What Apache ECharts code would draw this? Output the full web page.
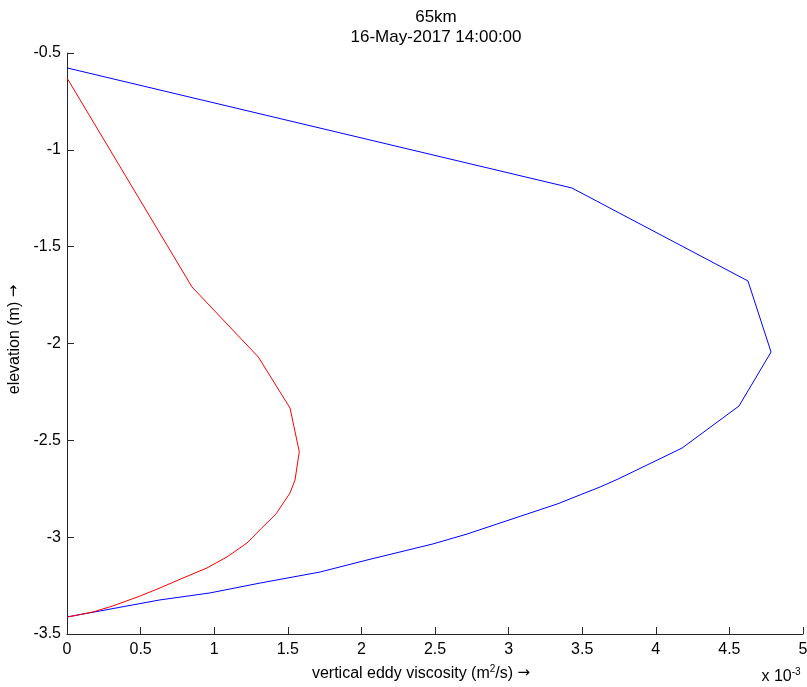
<!DOCTYPE html>
<html>
<head>
<meta charset="utf-8">
<script src="https://cdn.jsdelivr.net/npm/echarts@6/dist/echarts.min.js"></script>
<style>html,body{margin:0;padding:0;background:#fff;overflow:hidden;}#c{width:807px;height:687px;}</style>
</head>
<body>
<div id="c"></div>
<script>
// viscosity in units of 1e-3 m^2/s, elevation in m
const blueX = [0, 3.43, 4.626, 4.783, 4.565, 4.178, 3.743, 3.621, 3.329, 2.942, 2.717, 2.486, 2.038, 1.719, 1.311, 0.971, 0.632, 0.224, 0];
const blueY = [-0.577, -1.197, -1.677, -2.044, -2.323, -2.540, -2.700, -2.741, -2.829, -2.927, -2.984, -3.035, -3.118, -3.180, -3.237, -3.288, -3.324, -3.381, -3.412];
const redX = [0, 0.849, 1.30, 1.515, 1.578, 1.549, 1.515, 1.447, 1.42, 1.32, 1.223, 1.087, 0.951, 0.788, 0.632, 0.496, 0.312, 0.177, 0.02, 0];
const redY = [-0.629, -1.708, -2.07, -2.333, -2.559, -2.705, -2.772, -2.849, -2.88, -2.955, -3.030, -3.102, -3.159, -3.211, -3.262, -3.304, -3.355, -3.386, -3.41, -3.412];
const titleLines = ['65km', '16-May-2017 14:00:00'];
const xLabel = 'vertical eddy viscosity (m{sup|2}/s) {arr|\u2192}';
const yLabel = 'elevation (m) {arr|\u2192}';

const FONT = '"Liberation Sans", Arial, sans-serif';
const ARROW_FONT = '"DejaVu Sans", sans-serif';
const pairs = (xs, ys) => xs.map((x, i) => [x, ys[i]]);
const chart = echarts.init(document.getElementById('c'), null, {renderer: 'canvas'});
chart.setOption({
  animation: false,
  backgroundColor: '#fff',
  tooltip: {show: false},
  grid: {left: 67, right: 4, top: 53, bottom: 53, containLabel: false, outerBoundsMode: 'none'},
  graphic: [
    {type: 'text', x: 436, y: 17, silent: true, style: {text: titleLines[0], font: '17px ' + FONT, fill: '#000', textAlign: 'center', textVerticalAlign: 'middle'}},
    {type: 'text', x: 436, y: 37, silent: true, style: {text: titleLines[1], font: '17px ' + FONT, fill: '#000', textAlign: 'center', textVerticalAlign: 'middle'}},
    {type: 'text', x: 781, y: 677, silent: true, style: {
      text: 'x 10{sup|-3}', font: '16px ' + FONT, fill: '#000', textAlign: 'center', textVerticalAlign: 'middle',
      rich: {sup: {fontSize: 10, fontFamily: FONT, verticalAlign: 'top', padding: [0, 0, 10, 0]}}
    }}
  ],
  xAxis: {
    type: 'value', min: 0, max: 5, interval: 0.5,
    name: xLabel, nameLocation: 'middle', nameGap: 30,
    nameTextStyle: {fontSize: 16, fontFamily: FONT, color: '#000', padding: [0, 28, 0, 0],
      rich: {
        sup: {fontSize: 10, fontFamily: FONT, color: '#000', verticalAlign: 'top', padding: [0, 0, 9, 0]},
        arr: {fontSize: 15, fontFamily: ARROW_FONT, color: '#000'}
      }},
    axisLine: {show: true, lineStyle: {color: '#262626', width: 1}},
    axisTick: {show: true, inside: true, length: 7, lineStyle: {color: '#262626'}},
    axisLabel: {fontSize: 16, fontFamily: FONT, color: '#000', margin: 8},
    splitLine: {show: false}
  },
  yAxis: {
    type: 'value', min: -3.5, max: -0.5, interval: 0.5,
    name: yLabel, nameLocation: 'middle', nameGap: 41, nameRotate: 90,
    nameTextStyle: {fontSize: 16, fontFamily: FONT, color: '#000', padding: [0, 0, 0, 8],
      rich: {arr: {fontSize: 15, fontFamily: ARROW_FONT, color: '#000'}}},
    axisLine: {show: true, onZero: false, lineStyle: {color: '#262626', width: 1}},
    axisTick: {show: true, inside: true, length: 7, lineStyle: {color: '#262626'}},
    axisLabel: {fontSize: 16, fontFamily: FONT, color: '#000', margin: 6},
    splitLine: {show: false}
  },
  series: [
    {type: 'line', silent: true, emphasis: {disabled: true}, data: pairs(blueX, blueY), showSymbol: false, symbol: 'none', lineStyle: {color: '#0000ff', width: 1}, itemStyle: {color: '#0000ff'}, z: 2},
    {type: 'line', silent: true, emphasis: {disabled: true}, data: pairs(redX, redY), showSymbol: false, symbol: 'none', lineStyle: {color: '#ff0000', width: 1}, itemStyle: {color: '#ff0000'}, z: 3}
  ]
});
</script>
</body>
</html>
